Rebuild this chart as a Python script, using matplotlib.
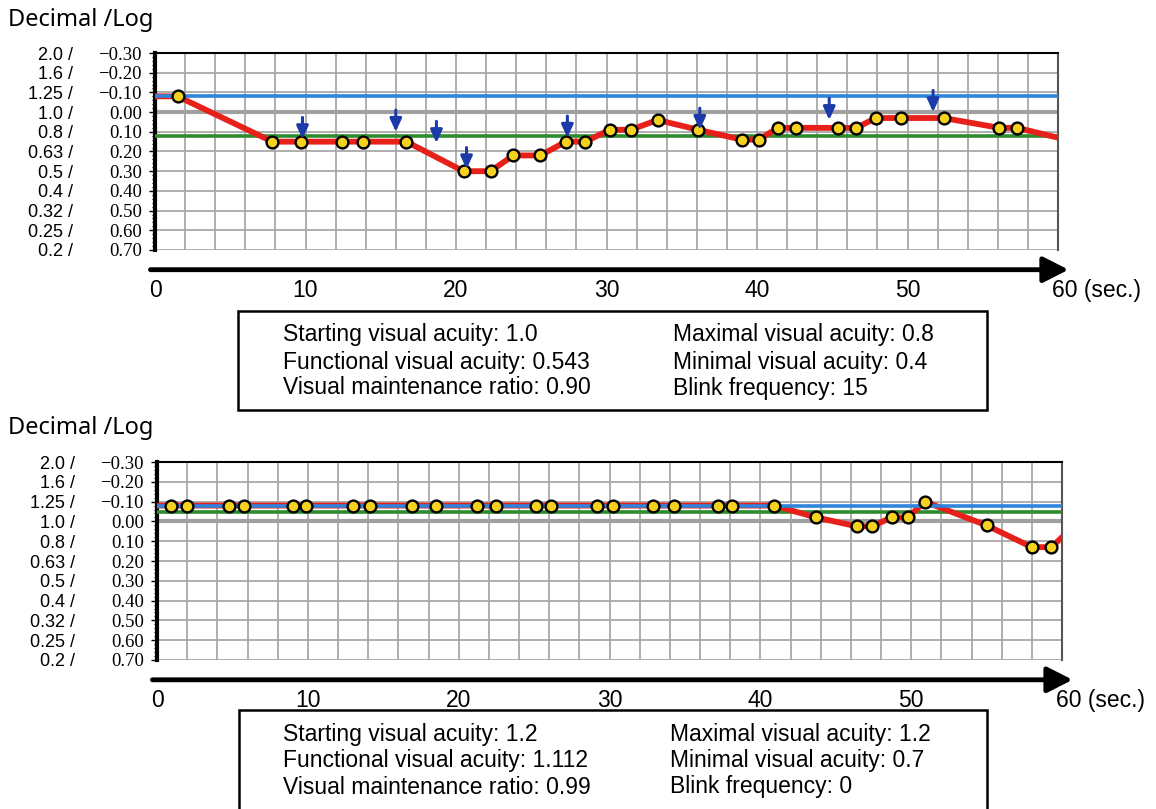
import numpy as np
import matplotlib
matplotlib.use('Agg')
from matplotlib import pyplot as plt
from matplotlib.patches import Rectangle
from matplotlib.transforms import ScaledTranslation

W, H = 1156, 809

# shared scale: logMAR on the axis, decimal acuity written beside it
log_ticks = [-0.30, -0.20, -0.10, 0.00, 0.10, 0.20, 0.30, 0.40, 0.50, 0.60, 0.70]
decimal_labels = ['2.0', '1.6', '1.25', '1.0', '0.8', '0.63', '0.5', '0.4', '0.32', '0.25', '0.2']
time_labels = [0, 10, 20, 30, 40, 50, 60]
time_unit = '(sec.)'

# upper measurement (seconds, logMAR)
top_t = [1.5, 7.8, 9.7, 12.4, 13.8, 16.7, 20.5, 22.3, 23.8, 25.6, 27.3, 28.6, 30.2, 31.6,
         33.4, 36.1, 39.0, 40.1, 41.4, 42.6, 45.4, 46.6, 47.9, 49.6, 52.4, 56.1, 57.3]
top_v = [-0.08, 0.15, 0.15, 0.15, 0.15, 0.15, 0.30, 0.30, 0.22, 0.22, 0.15, 0.15, 0.09, 0.09,
         0.04, 0.09, 0.14, 0.14, 0.08, 0.08, 0.08, 0.08, 0.03, 0.03, 0.03, 0.08, 0.08]
top_end = 0.13
top_start_line = -0.08
top_mean_line = 0.12
top_blink_t = [9.8, 16.0, 18.7, 20.7, 27.4, 36.2, 44.8, 51.7]
top_blink_v = [0.137, 0.10, 0.157, 0.29, 0.13, 0.09, 0.04, 0.0]
top_left_text = ['Starting visual acuity: 1.0', 'Functional visual acuity: 0.543',
                 'Visual maintenance ratio: 0.90']
top_right_text = ['Maximal visual acuity: 0.8', 'Minimal visual acuity: 0.4', 'Blink frequency: 15']

# lower measurement
bot_t = [0.9, 2.0, 4.8, 5.8, 9.0, 9.9, 13.0, 14.1, 16.9, 18.5, 21.2, 22.5, 25.1, 26.1,
         29.2, 30.2, 32.9, 34.3, 37.2, 38.1, 40.9, 43.7, 46.4, 47.4, 48.7, 49.8, 50.9,
         55.0, 58.0, 59.3]
bot_v = [-0.08, -0.08, -0.08, -0.08, -0.08, -0.08, -0.08, -0.08, -0.08, -0.08, -0.08, -0.08,
         -0.08, -0.08, -0.08, -0.08, -0.08, -0.08, -0.08, -0.08, -0.08, -0.02, 0.025, 0.025,
         -0.02, -0.02, -0.10, 0.02, 0.13, 0.13]
bot_end = 0.08
bot_start_line = -0.08
bot_mean_line = -0.05
bot_blink_t = []
bot_blink_v = []
bot_left_text = ['Starting visual acuity: 1.2', 'Functional visual acuity: 1.112',
                 'Visual maintenance ratio: 0.99']
bot_right_text = ['Maximal visual acuity: 1.2', 'Minimal visual acuity: 0.7', 'Blink frequency: 0']

SANS = 'Liberation Sans'


def px_rect(left, top, right, bottom):
    return [left / W, 1 - bottom / H, (right - left) / W, (bottom - top) / H]


def draw_panel(fig, rect, t, v, v_end, start_line, mean_line, blink_t, blink_v):
    ax = fig.add_axes(px_rect(*rect))
    ax.set_xlim(0, 60)
    ax.set_ylim(0.70, -0.30)

    ax.set_xticks(np.arange(0, 61, 2))
    ax.tick_params(axis='x', length=0, labelbottom=False)
    ax.set_yticks(log_ticks)
    ax.set_yticklabels([f'{x:.2f}'.replace('-', '\u2212') for x in log_ticks],
                       fontfamily='Liberation Serif', fontsize=13.5)
    ax.set_yticks(np.arange(-0.30, 0.705, 0.02), minor=True)
    ax.tick_params(axis='y', which='major', length=4, width=1, pad=5.5)
    ax.tick_params(axis='y', which='minor', length=2.5, width=0.8)
    ax.grid(True, color='#a8a8a8', lw=1.3, zorder=0)
    ax.set_axisbelow(True)

    for side, lw, col in [('left', 3.0, 'black'), ('top', 1.5, 'black'), ('right', 1.5, '#555555')]:
        ax.spines[side].set_linewidth(lw)
        ax.spines[side].set_color(col)
    ax.spines['bottom'].set_visible(False)

    # decimal values next to the logMAR labels
    trans = ax.get_yaxis_transform() + ScaledTranslation(-0.82, 0, fig.dpi_scale_trans)
    for lv, dl in zip(log_ticks, decimal_labels):
        ax.text(0, lv, dl + ' /', transform=trans, ha='right', va='center_baseline',
                fontsize=13, family=SANS, clip_on=False)

    ax.axhline(0, color='#a0a0a0', lw=3, zorder=2)
    ax.axhline(mean_line, color='#2e8c2e', lw=2.6, zorder=3)
    line_t = [0] + list(t) + [60]
    line_v = [v[0]] + list(v) + [v_end]
    ax.plot(line_t, line_v, color='#e8201a', lw=4.2, zorder=4, solid_joinstyle='round')
    ax.axhline(start_line, color='#2f84dc', lw=2.6, zorder=5)
    ax.plot(t, v, 'o', ms=8.5, mfc='#f6d21e', mec='black', mew=1.7, zorder=6)

    for bt, bv in zip(blink_t, blink_v):
        ax.annotate('', xy=(bt, bv), xytext=(bt, bv - 0.11),
                    arrowprops=dict(arrowstyle='-|>,head_length=0.55,head_width=0.25',
                                    color='#1c3aa9', lw=2.2, mutation_scale=14,
                                    shrinkA=0, shrinkB=0), zorder=7)

    # time arrow and labels under the chart
    ax.annotate('', xy=(60.7, -0.10), xytext=(-0.3, -0.10),
                xycoords=('data', 'axes fraction'), textcoords=('data', 'axes fraction'),
                arrowprops=dict(arrowstyle='-|>,head_length=0.55,head_width=0.28',
                                lw=3.5, color='black', mutation_scale=28,
                                shrinkA=0, shrinkB=0),
                annotation_clip=False)
    xtrans = ax.get_xaxis_transform()
    for tl in time_labels:
        if tl == time_labels[-1]:
            ax.text(tl - 0.4, -0.205, f'{tl} {time_unit}', transform=xtrans, ha='left',
                    va='center', fontsize=16.5, family=SANS, clip_on=False)
        else:
            ax.text(tl, -0.205, str(tl), transform=xtrans, ha='center', va='center',
                    fontsize=16.5, family=SANS, clip_on=False)
    return ax


def draw_summary(fig, box, rows_y, left_x, right_x, left_text, right_text):
    l, t, r, b = box
    fig.add_artist(Rectangle((l / W, 1 - b / H), (r - l) / W, (b - t) / H,
                             transform=fig.transFigure, fill=False, lw=1.8, ec='black'))
    for y, lt, rt in zip(rows_y, left_text, right_text):
        fig.text(left_x / W, 1 - y / H, lt, ha='left', va='center', fontsize=16.5, family=SANS)
        fig.text(right_x / W, 1 - y / H, rt, ha='left', va='center', fontsize=16.5, family=SANS)


fig = plt.figure(figsize=(W / 100, H / 100), dpi=100)

fig.text(8 / W, 1 - 20 / H, 'Decimal /Log', ha='left', va='center', fontsize=17, family='Noto Sans')
draw_panel(fig, (155, 53, 1058, 250), top_t, top_v, top_end, top_start_line, top_mean_line,
           top_blink_t, top_blink_v)
draw_summary(fig, (238, 311, 987, 410), [335, 362, 388], 283, 673, top_left_text, top_right_text)

fig.text(8 / W, 1 - 428 / H, 'Decimal /Log', ha='left', va='center', fontsize=17, family='Noto Sans')
draw_panel(fig, (157, 462, 1062, 660), bot_t, bot_v, bot_end, bot_start_line, bot_mean_line,
           bot_blink_t, bot_blink_v)
draw_summary(fig, (239, 710, 987, 815), [734, 761, 787], 283, 670, bot_left_text, bot_right_text)

fig.savefig('out.png', dpi=100)
